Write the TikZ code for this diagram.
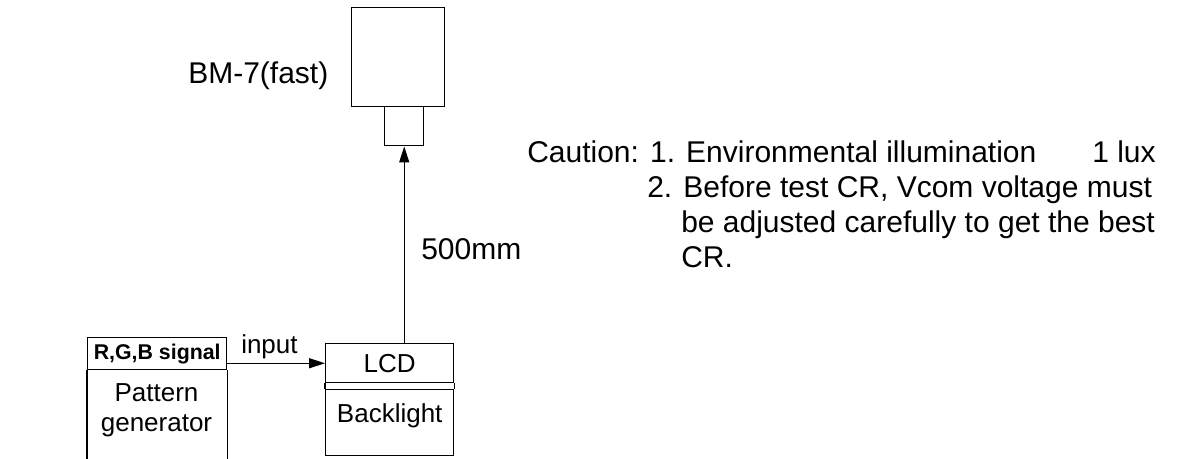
\documentclass[tikz,border=0pt]{standalone}
\usepackage{fontspec}
\setmainfont{Liberation Sans}
\usetikzlibrary{arrows.meta,positioning}
\tikzset{
  box/.style={draw,line width=1.1pt,inner sep=0pt,anchor=north west},
  big/.style={font=\fontsize{22.5}{27}\selectfont,inner sep=0pt,anchor=base west},
  mid/.style={font=\fontsize{19.5}{22.5}\selectfont,inner sep=0pt,align=center},
  sig/.style={-{Triangle[length=12pt,width=7.5pt]},line width=1.1pt}
}
\begin{document}
\begin{tikzpicture}[x=0.75pt,y=-0.75pt]
\useasboundingbox (0,0) rectangle (1182,458);
\clip (0,0) rectangle (1182,458);
% meter
\node[box,minimum width=69.75pt,minimum height=74.25pt] (meter) at (351,7) {};
\node[box,minimum width=29.25pt,minimum height=29.25pt] (lens) at (384,106) {};
\node[big] (meterlbl) at (188,83) {BM-7(fast)};
% pattern generator
\node[box,minimum width=104.25pt,minimum height=24pt,font=\bfseries\fontsize{16}{19}\selectfont] (pghead) at (87,337) {R,G,B signal};
\draw[line width=1.1pt] (pghead.south west) -- ++(0,100) (pghead.south east) -- ++(0,100);
\node[mid] (pgbody) at (156.5,410) {Pattern\\generator};
% panel
\node[box,mid,anchor=north west,minimum width=96pt,minimum height=29.25pt] (lcd) at (325,343) {LCD};
\node[box,minimum width=96pt,minimum height=49.5pt,label={[mid,anchor=base,yshift=-24.75pt]north:Backlight}] (blight) at (325,389) {};
\draw[line width=1.1pt] (lcd.south west) -- (blight.north west) (lcd.south east) -- (blight.north east);
% connectors
\draw[sig] (lcd.north -| lens.south) -- (lens.south);
\draw[sig] (pghead.east |- lcd.west) -- (lcd.west);
\node[mid,anchor=base west] (inlbl) at (241,353) {input};
\node[big] (dist) at (421,259) {500mm};
% caution
\node[big] (c1) at (527,162) {Caution: 1. Environmental illumination};
\node[big] (lux) at (1092,162) {1 lux};
\foreach \x/\y/\t [count=\i from 2] in {647/197/{2. Before test CR, Vcom voltage must},681/232/be adjusted carefully to get the best,681/267/CR.}
  {\node[big] (c\i) at (\x,\y) {\t};}
\end{tikzpicture}
\end{document}
